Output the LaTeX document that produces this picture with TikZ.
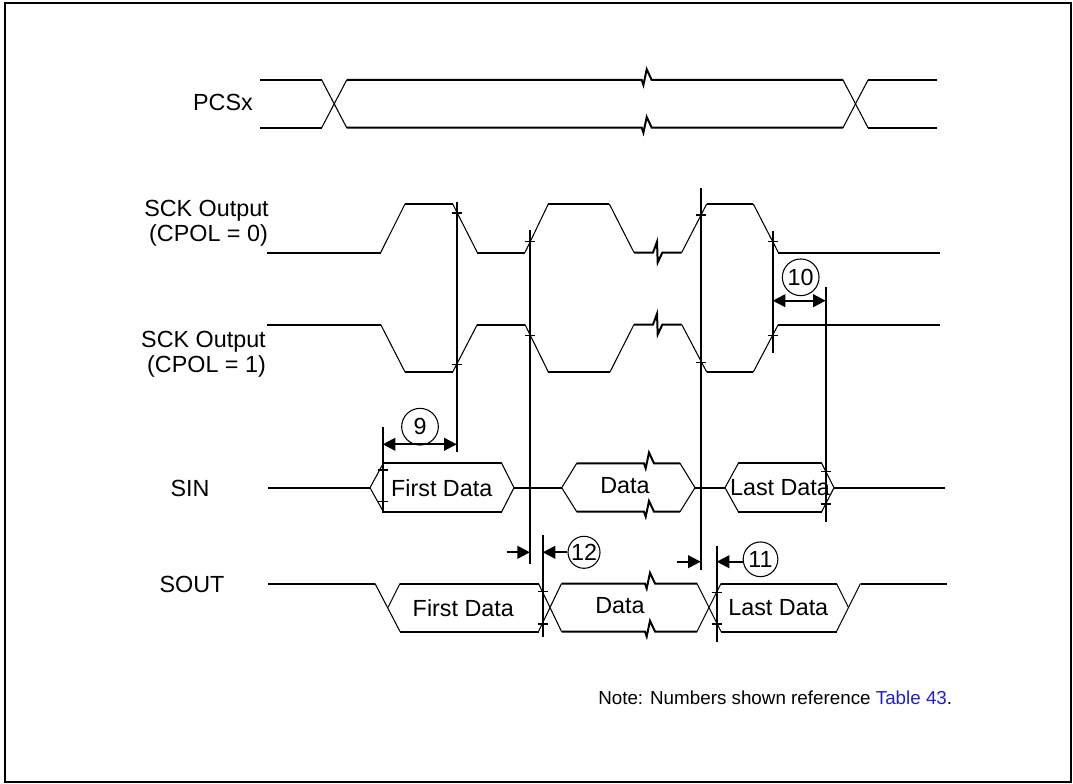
\documentclass[tikz,border=0pt]{standalone}
\usepackage{fontspec}
\setmainfont{Liberation Sans}
\usetikzlibrary{arrows.meta}
\definecolor{linkblue}{RGB}{32,32,200}
\begin{document}
\begin{tikzpicture}[x=0.75pt,y=-0.75pt,
  frame/.style={line width=1.5pt},
  lvl/.style={line width=1.5pt},
  edge/.style={line width=0.8pt},
  vline/.style={line width=1.5pt},
  tick/.style={line width=1pt},
  dimboth/.style={line width=1.5pt,arrows={Triangle[length=9.5pt,width=9.5pt]-Triangle[length=9.5pt,width=9.5pt]}},
  dimto/.style={line width=1.5pt,arrows={-Triangle[length=9.5pt,width=9.5pt]}},
  lbl/.style={inner sep=0pt,font=\fontsize{17.5}{20}\selectfont},
  numc/.style={circle,draw,line width=0.8pt,inner sep=0pt,font=\fontsize{17.5}{20}\selectfont},
  note/.style={inner sep=0pt,font=\fontsize{14.1}{16}\selectfont}]
\useasboundingbox (0,0) rectangle (1073,784);
\draw[frame] (5,3.5) rectangle (1071,782);

% ---------- labels ----------
\node[lbl,anchor=east] (lpcs) at (253,102) {PCSx};
\node[lbl] (lsck0a) at (206.5,211) {SCK Output};
\node[lbl] (lsck0b) at (208.5,235) {(CPOL = 0)};
\node[lbl] (lsck1a) at (203.5,342) {SCK Output};
\node[lbl] (lsck1b) at (206.5,366.5) {(CPOL = 1)};
\node[lbl] (lsin) at (190,488) {SIN};
\node[lbl] (lsout) at (192,584) {SOUT};

% ---------- PCSx ----------
\draw[lvl] (260,80) -- (321.7,80);
\draw[lvl] (260,127.7) -- (321.7,127.7);
\draw[edge] (321.7,80) -- (346.7,127.7);
\draw[edge] (321.7,127.7) -- (346.7,80);
\draw[lvl] (346.7,80) -- (641.7,80) -- ++(1.7,5) -- ++(3.3,-15.7) -- ++(5,10.7) -- (843,80);
\draw[lvl] (346.7,127.7) -- (641.7,127.7) -- ++(1.7,5) -- ++(3.3,-15.7) -- ++(5,10.7) -- (843,127.7);
\draw[edge] (843,80) -- (868,127.7);
\draw[edge] (843,127.7) -- (868,80);
\draw[lvl] (868,80) -- (937,80);
\draw[lvl] (868,127.7) -- (937,127.7);

% ---------- SCK CPOL = 0 ----------
\draw[lvl] (266.7,252.5) -- (380.7,252.5);
\draw[edge] (380.7,252.5) -- (405,204);
\draw[lvl] (405,204) -- (452.7,204);
\draw[edge] (452.7,204) -- (477.3,252.5);
\draw[lvl] (477.3,252.5) -- (525,252.5);
\draw[edge] (525,252.5) -- (548.3,204);
\draw[lvl] (548.3,204) -- (609.3,204);
\draw[edge] (609.3,204) -- (634,252.5);
\draw[lvl] (634,252.5) -- (653,252.5) -- ++(4,-10.7) -- ++(0.7,20.7) -- ++(4.7,-10) -- (681.7,252.5);
\draw[edge] (681.7,252.5) -- (706.7,204);
\draw[lvl] (706.7,204) -- (753.3,204);
\draw[edge] (753.3,204) -- (778.3,252.5);
\draw[lvl] (778.3,252.5) -- (940,252.5);

% ---------- SCK CPOL = 1 ----------
\draw[lvl] (266.7,324.5) -- (380.7,324.5);
\draw[edge] (380.7,324.5) -- (405,372);
\draw[lvl] (405,372) -- (452.7,372);
\draw[edge] (452.7,372) -- (477.3,324.5);
\draw[lvl] (477.3,324.5) -- (525,324.5);
\draw[edge] (525,324.5) -- (548.3,372);
\draw[lvl] (548.3,372) -- (610,372);
\draw[edge] (610,372) -- (634,324.5);
\draw[lvl] (634,324.5) -- (653,324.5) -- ++(4,-10.7) -- ++(0.7,20.7) -- ++(4.7,-10) -- (681.7,324.5);
\draw[edge] (681.7,324.5) -- (706.7,372);
\draw[lvl] (706.7,372) -- (753.3,372);
\draw[edge] (753.3,372) -- (778.3,324.5);
\draw[lvl] (778.3,324.5) -- (940,324.5);

% ---------- SIN ----------
\draw[lvl] (268,487.7) -- (370,487.7);
\draw[lvl] (383.3,463.3) -- (501.7,463.3);
\draw[lvl] (383.3,511.7) -- (501.7,511.7);
\draw[edge] (383.3,463.3) -- (370,487.7) -- (383.3,511.7);
\draw[edge] (501.7,463.3) -- (514,487.7) -- (501.7,511.7);
\draw[lvl] (514,487.7) -- (561.7,487.7);
\draw[edge] (576.7,463.3) -- (561.7,487.7) -- (576.7,511.7);
\draw[lvl] (576.7,463.3) -- (644,463.3) -- ++(1.7,5) -- ++(3.3,-15.7) -- ++(5,10.7) -- (680,463.3);
\draw[lvl] (576.7,511.7) -- (644,511.7) -- ++(1.7,5) -- ++(3.3,-15.7) -- ++(5,10.7) -- (680,511.7);
\draw[edge] (680,463.3) -- (695,487.7) -- (680,511.7);
\draw[lvl] (695,487.7) -- (725,487.7);
\draw[edge] (738.3,463.3) -- (725,487.7) -- (738.3,511.7);
\draw[lvl] (738.3,463.3) -- (821.7,463.3);
\draw[lvl] (738.3,511.7) -- (821.7,511.7);
\draw[edge] (821.7,463.3) -- (834,487.7) -- (821.7,511.7);
\draw[lvl] (834,487.7) -- (945,487.7);
\node[lbl] (sin1) at (441.7,487.7) {First Data};
\node[lbl] (sin2) at (625,485.5) {Data};
\node[lbl] (sin3) at (780,487.7) {Last Data};

% ---------- SOUT ----------
\draw[lvl] (268,583.5) -- (375,583.5);
\draw[edge] (375,583.5) -- (400,631.5);
\draw[edge] (388,607.5) -- (400,583.5);
\draw[lvl] (400,583.5) -- (538.5,583.5);
\draw[lvl] (400,631.5) -- (538.5,631.5);
\draw[edge] (538.5,583.5) -- (561.5,631.5);
\draw[edge] (538.5,631.5) -- (561.5,583.5);
\draw[lvl] (561.5,583.5) -- (645,583.5) -- ++(1.7,5) -- ++(3.3,-15.7) -- ++(5,10.7) -- (697,583.5);
\draw[lvl] (561.5,631.5) -- (645,631.5) -- ++(1.7,5) -- ++(3.3,-15.7) -- ++(5,10.7) -- (697,631.5);
\draw[edge] (697,583.5) -- (721,631.5);
\draw[edge] (697,631.5) -- (721,583.5);
\draw[lvl] (721,583.5) -- (836.5,583.5);
\draw[lvl] (721,631.5) -- (836.5,631.5);
\draw[edge] (836.5,583.5) -- (848.5,607.5);
\draw[edge] (836.5,631.5) -- (860.5,583.5);
\draw[lvl] (860.5,583.5) -- (946.5,583.5);
\node[lbl] (sout1) at (463.3,608) {First Data};
\node[lbl] (sout2) at (620,605.5) {Data};
\node[lbl] (sout3) at (778.3,607.7) {Last Data};

% ---------- timing reference lines ----------
\draw[vline] (456.7,201.7) -- (456.7,452.3);
\draw[vline] (530,230) -- (530,564);
\draw[vline] (700.7,188.3) -- (700.7,570);
\draw[vline] (772.7,230.7) -- (772.7,353.3);
\draw[vline] (825.7,287.3) -- (825.7,521.7);
\draw[vline] (382.7,427.3) -- (382.7,513.3);
\draw[vline] (542.7,535) -- (542.7,636.7);
\draw[vline] (716.7,546) -- (716.7,641.7);

% ticks
\foreach \tx/\ty in {456.7/213, 530/241.7, 700.7/215, 772.7/241.7,
                     456.7/364.3, 530/335.7, 700.7/362.3, 772.7/335.7,
                     382.7/470, 382.7/501.7, 825.7/471.7, 825.7/504,
                     542.7/591.7, 542.7/624, 716.7/592.7, 716.7/624}
  \draw[tick] (\tx-5,\ty) -- (\tx+5,\ty);

% ---------- dimension arrows ----------
\node[numc,minimum size=27.5pt] (c9) at (420,426.7) {9};
\draw[dimboth] (382.7,444.3) -- (456.7,444.3);

\node[numc,minimum size=27.5pt] (c10) at (800.7,277.3) {10};
\draw[dimboth] (772.7,300.7) -- (825.7,300.7);

\node[numc,minimum size=24pt] (c12) at (584,552.3) {12};
\draw[dimto] (506.7,552.3) -- (530,552.3);
\draw[dimto] (c12.west) -- (542.7,552.3);

\node[numc,minimum size=26pt] (c11) at (760.5,559.3) {11};
\draw[dimto] (676.7,561.7) -- (700.7,561.7);
\draw[dimto] (c11.west |- 0,561.7) -- (716.7,561.7);

% ---------- note ----------
\node[note,anchor=west] (nt) at (598,698) {Note: Numbers shown reference \textcolor{linkblue}{Table 43}.};
\end{tikzpicture}
\end{document}
